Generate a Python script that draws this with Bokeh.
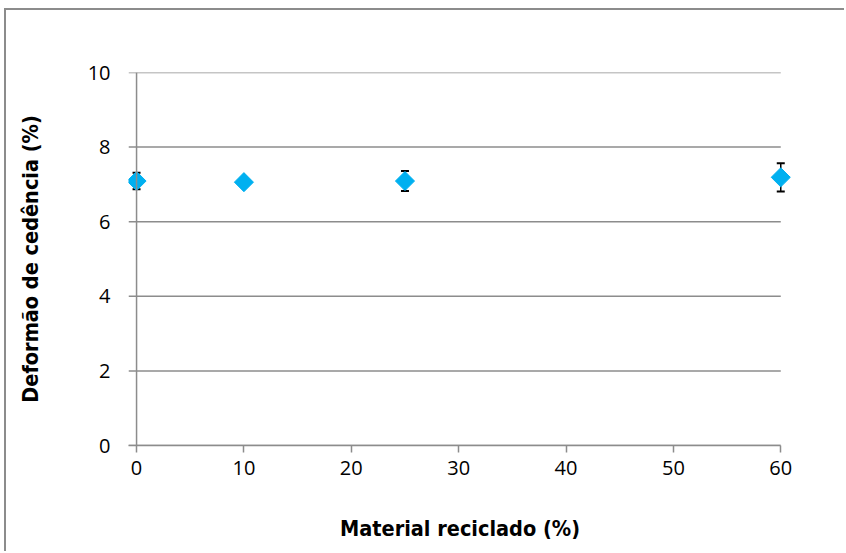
from bokeh.plotting import figure
from bokeh.models import Range1d, Whisker, TeeHead, ColumnDataSource, Span, FixedTicker
from bokeh.embed import file_html
from bokeh.resources import INLINE
import numpy as np

# data
material = [0, 10, 25, 60]
deformacao = [7.09, 7.06, 7.09, 7.19]
erro = [0.22, 0.05, 0.27, 0.38]
x_ticks = [0, 10, 20, 30, 40, 50, 60]
y_ticks = [0, 2, 4, 6, 8, 10]

lower = [v - e for v, e in zip(deformacao, erro)]
upper = [v + e for v, e in zip(deformacao, erro)]
src = ColumnDataSource(dict(x=material, y=deformacao, lo=lower, hi=upper))

X0 = -0.75
p = figure(width=840, height=543, output_backend="svg", toolbar_location=None,
           x_range=Range1d(X0, 61), y_range=Range1d(0, 10),
           min_border_left=122, min_border_right=55, min_border_top=62, min_border_bottom=108)
p.styles = {"border-top": "2px solid #8c8c8c", "border-left": "2px solid #8c8c8c",
            "margin-left": "4px", "margin-top": "8px"}
p.outline_line_color = None
p.xgrid.visible = False
p.ygrid.visible = False

# horizontal gridlines
p.segment(x0=[X0] * len(y_ticks), x1=[x_ticks[-1]] * len(y_ticks), y0=y_ticks, y1=y_ticks,
          line_color="#8c8c8c", line_width=1.5)
# vertical axis line at x=0
p.add_layout(Span(location=0, dimension="height", line_color="#8c8c8c", line_width=1.5))

label_font = "DejaVu Sans Condensed"

# x axis
p.xaxis.ticker = FixedTicker(ticks=x_ticks)
p.xaxis.bounds = (X0, x_ticks[-1])
p.xaxis.axis_line_color = "#8c8c8c"
p.xaxis.axis_line_width = 1.5
p.xaxis.major_tick_line_color = "#8c8c8c"
p.xaxis.major_tick_line_width = 1.5
p.xaxis.major_tick_in = 0
p.xaxis.major_tick_out = 7
p.xaxis.minor_tick_line_color = None
p.xaxis.major_label_text_font = "Open Sans"
p.xaxis.major_label_text_font_size = "20px"
p.xaxis.major_label_text_color = "#000000"
p.xaxis.major_label_standoff = 8
p.xaxis.axis_label = "Material reciclado (%)"
p.xaxis.axis_label_text_font = label_font
p.xaxis.axis_label_text_font_style = "bold"
p.xaxis.axis_label_text_font_size = "21.5px"
p.xaxis.axis_label_text_color = "#000000"
p.xaxis.axis_label_standoff = 38

# y axis
p.yaxis.ticker = FixedTicker(ticks=y_ticks)
p.yaxis.axis_line_color = None
p.yaxis.major_tick_line_color = None
p.yaxis.minor_tick_line_color = None
p.yaxis.major_label_text_font = "Open Sans"
p.yaxis.major_label_text_font_size = "20px"
p.yaxis.major_label_text_color = "#000000"
p.yaxis.major_label_standoff = 12
p.yaxis.axis_label = "Deformão de cedência (%)"
p.yaxis.axis_label_text_font = label_font
p.yaxis.axis_label_text_font_style = "bold"
p.yaxis.axis_label_text_font_size = "21.5px"
p.yaxis.axis_label_text_color = "#000000"
p.yaxis.axis_label_standoff = 42

# error bars
w = Whisker(source=src, base="x", lower="lo", upper="hi", line_color="black", line_width=1.5,
            upper_head=TeeHead(size=8, line_color="black", line_width=2),
            lower_head=TeeHead(size=8, line_color="black", line_width=2))
p.add_layout(w)

p.scatter(x="x", y="y", source=src, marker="square", size=13.5, angle=np.pi / 4,
          fill_color="#00B0F0", line_color="#00B0F0")

open("out.html", "w").write(file_html(p, INLINE))
